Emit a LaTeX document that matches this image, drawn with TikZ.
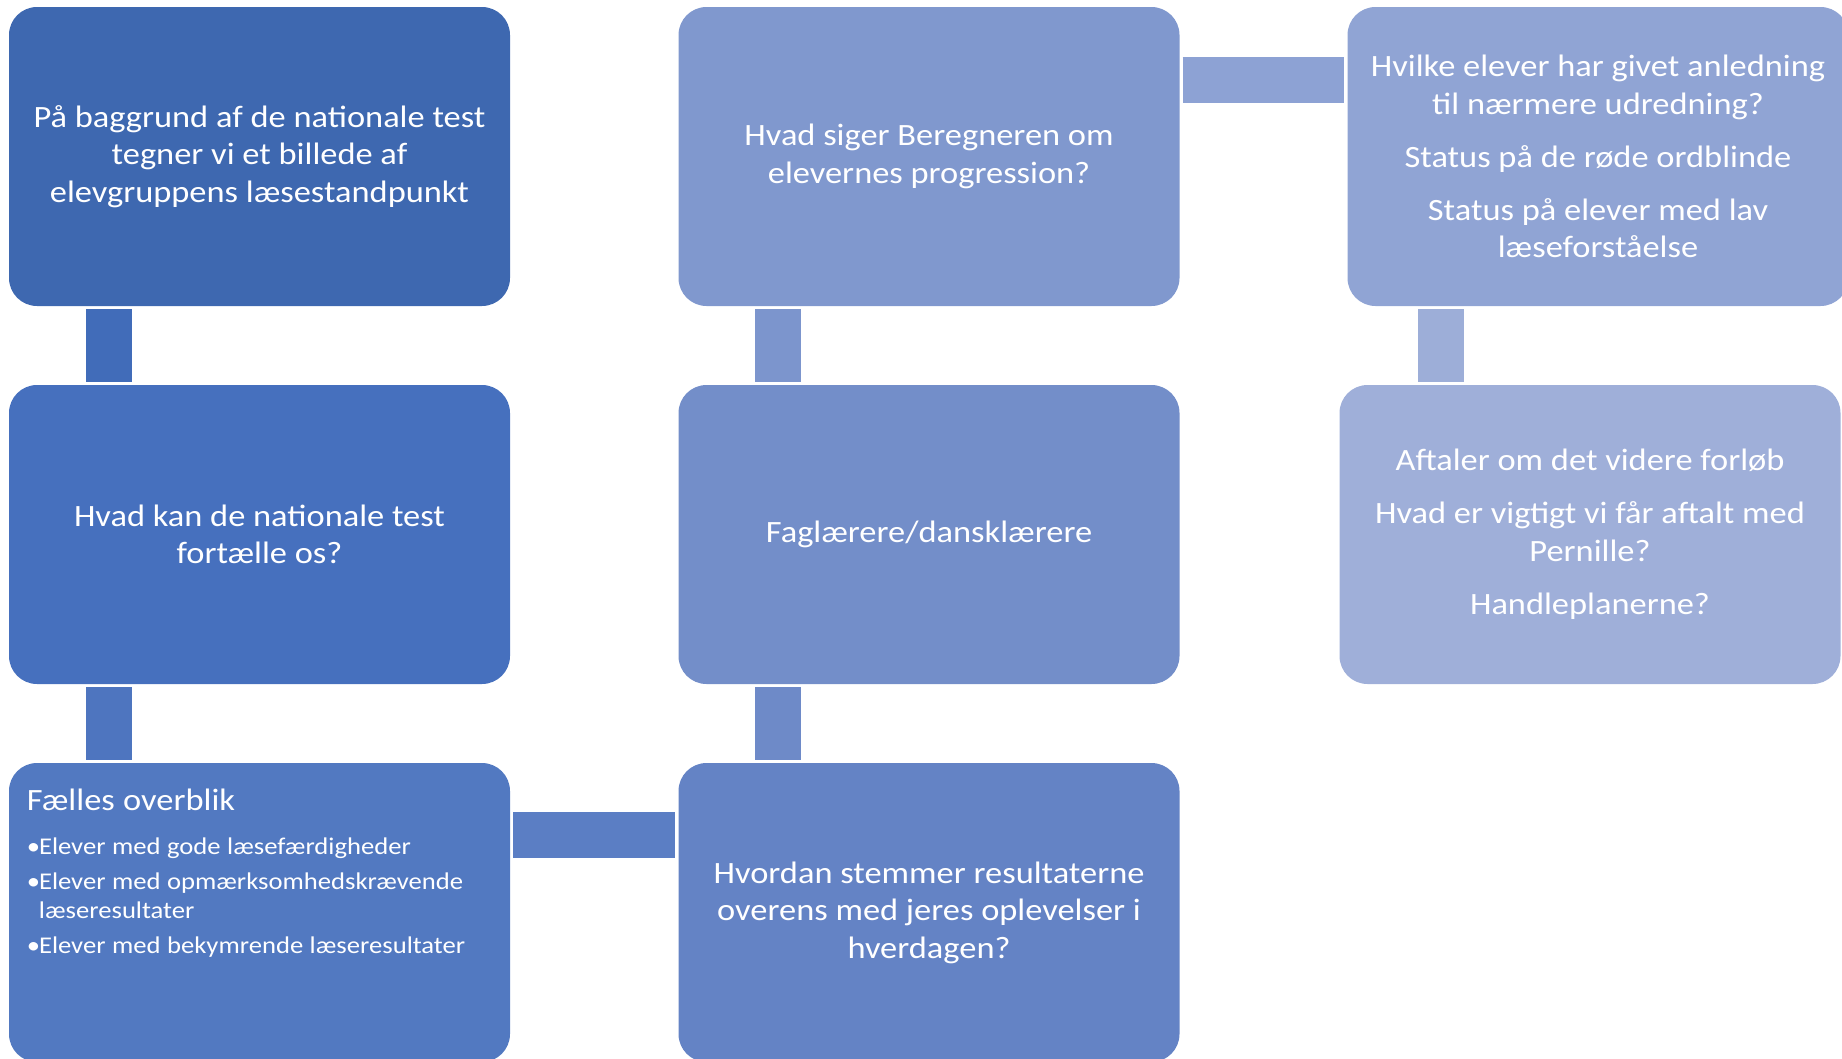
\documentclass[tikz,border=0pt]{standalone}
\usepackage{fontspec}
\setmainfont{Carlito}[FakeStretch=1.11]
\usetikzlibrary{calc}
\definecolor{b1}{RGB}{62,104,176}
\definecolor{b2}{RGB}{70,112,190}
\definecolor{b3}{RGB}{82,121,193}
\definecolor{b4}{RGB}{100,131,197}
\definecolor{b5}{RGB}{115,142,201}
\definecolor{b6}{RGB}{128,152,206}
\definecolor{b7}{RGB}{144,164,212}
\definecolor{b8}{RGB}{159,175,217}
\definecolor{k1}{RGB}{65,108,185}
\definecolor{k2}{RGB}{78,117,191}
\definecolor{k3}{RGB}{91,126,196}
\definecolor{k4}{RGB}{110,138,200}
\definecolor{k5}{RGB}{124,149,205}
\definecolor{k6}{RGB}{141,162,212}
\definecolor{k7}{RGB}{157,174,216}
\hyphenpenalty=10000
\exhyphenpenalty=10000
\begin{document}
\begin{tikzpicture}[x=1pt,y=-1pt,
  box/.style={rectangle, rounded corners=28pt, minimum width=501pt, minimum height=299pt,
    inner sep=0pt, text=white, align=center, font=\fontsize{31}{37.6}\selectfont},
  bar/.style={line width=46pt, shorten <=3pt, shorten >=3pt}]
\useasboundingbox (0,0) rectangle (1842,1058);
\clip (0,0) rectangle (1842,1058);

\node[box, fill=b1] (b1) at (259.5,156.5) {På baggrund af de nationale test\\tegner vi et billede af\\elevgruppens læsestandpunkt};
\node[box, fill=b2] (b2) at (259.5,534.5) {Hvad kan de nationale test\\fortælle os?};
\node[box, fill=b3] (b3) at (259.5,912.5) {};
\node[box, fill=b4] (b4) at (929,912.5) {Hvordan stemmer resultaterne\\overens med jeres oplevelser i\\hverdagen?};
\node[box, fill=b5] (b5) at (929,534.5) {Faglærere/dansklærere};
\node[box, fill=b6] (b6) at (929,156.5) {Hvad siger Beregneren om\\elevernes progression?};
\node[box, fill=b7] (b7) at (1598,156.5) {Hvilke elever har givet anledning\\til nærmere udredning?\\[15.4pt]Status på de røde ordblinde\\[15.4pt]Status på elever med lav\\læseforståelse};
\node[box, fill=b8] (b8) at (1590,534.5) {Aftaler om det videre forløb\\[15.4pt]Hvad er vigtigt vi får aftalt med\\Pernille?\\[15.4pt]Handleplanerne?};

\node[anchor=north west, inner sep=0pt, text width=470pt, align=left, text=white] (t3)
  at ($(b3.north west)+(18,26)$) {\fontsize{31}{37.6}\selectfont\spaceskip=0.27em Fælles overblik\par
  \fontsize{24}{29.4}\selectfont\spaceskip=0.27em\vspace{15pt}
  \hangindent=12pt\hangafter=1\makebox[12pt][l]{•}Elever med gode læsefærdigheder\par\vspace{5pt}
  \hangindent=12pt\hangafter=1\makebox[12pt][l]{•}Elever med opmærksomhedskrævende\break læseresultater\par\vspace{5pt}
  \hangindent=12pt\hangafter=1\makebox[12pt][l]{•}Elever med bekymrende læseresultater\par};

\coordinate (p1) at ($(b1.south west)+(100,0)$);
\coordinate (p2) at ($(b2.south west)+(100,0)$);
\coordinate (p3) at ($(b3.north east)+(0,72)$);
\coordinate (p4) at ($(b4.north west)+(100,0)$);
\coordinate (p5) at ($(b5.north west)+(100,0)$);
\coordinate (p6) at ($(b6.north east)+(0,73)$);
\coordinate (p7) at ($(b7.south west)+(94,0)$);

\draw[bar, k1] (p1) -- (p1 |- b2.north);
\draw[bar, k2] (p2) -- (p2 |- b3.north);
\draw[bar, k3] (p3) -- (p3 -| b4.west);
\draw[bar, k4] (p4) -- (p4 |- b5.south);
\draw[bar, k5] (p5) -- (p5 |- b6.south);
\draw[bar, k6] (p6) -- (p6 -| b7.west);
\draw[bar, k7] (p7) -- (p7 |- b8.north);
\end{tikzpicture}
\end{document}
